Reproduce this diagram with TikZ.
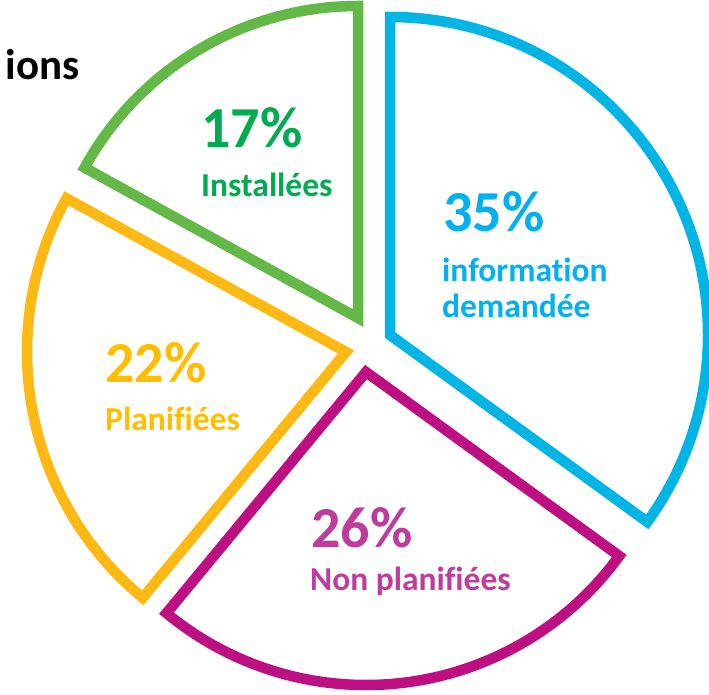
\documentclass[tikz,border=0pt]{standalone}
\usepackage{fontspec}
\setmainfont{Carlito}[Ligatures=NoCommon]
\usetikzlibrary{positioning}

\definecolor{greenline}{RGB}{100,184,72}
\definecolor{greentext}{RGB}{0,170,80}
\definecolor{cyanline}{RGB}{0,180,228}
\definecolor{cyantext}{RGB}{0,176,240}
\definecolor{magline}{RGB}{190,15,130}
\definecolor{magtext}{RGB}{190,60,155}
\definecolor{yelline}{RGB}{255,185,20}
\definecolor{yeltext}{RGB}{255,190,0}

\tikzset{
  slice/.style={line width=10.5pt, line join=miter},
  pct/.style={anchor=base west, inner sep=0pt, font=\bfseries\fontsize{58}{58}\selectfont},
  lbl/.style={anchor=base west, inner sep=0pt, font=\bfseries\fontsize{33.5}{37}\selectfont}
}

\begin{document}
\begin{tikzpicture}[x=1pt,y=1pt]
\useasboundingbox (0,0) rectangle (709,694);

% apexes of the slices
\coordinate (cyanC) at (390,359);
\coordinate (magC) at (366,322);
\coordinate (yelC) at (346,342);
\coordinate (greenC) at (358,376);

% slices
\draw[slice, cyanline] (cyanC) -- ++(90:318) arc[start angle=90, end angle=-36, radius=318] -- cycle;
\draw[slice, magline] (magC) -- ++(-36:313) arc[start angle=-36, end angle=-129.6, radius=313] -- cycle;
\draw[slice, yelline] (yelC) -- ++(-129.6:319) arc[start angle=-129.6, end angle=-208.8, radius=319] -- cycle;
\draw[slice, greenline] (greenC) -- ++(151.2:312) arc[start angle=151.2, end angle=90, radius=312] -- cycle;

% texts
\node[anchor=base east, inner sep=0pt, font=\bfseries\fontsize{43}{43}\selectfont](title) at (80,614){ions};

\node[pct, greentext](pctInst) at (201,546){17\%};
\node[lbl, greentext](lblInst) at (201,497){Installées};

\node[pct, cyantext](pctInfo) at (443,462){35\%};
\node[lbl, cyantext](lblInfoA) at (442,412){information};
\node[lbl, cyantext](lblInfoB) at (442,376){demandée};

\node[pct, yeltext](pctPlan) at (105,311){22\%};
\node[lbl, yeltext](lblPlan) at (105,264){Planifiées};

\node[pct, magtext](pctNon) at (311,147){26\%};
\node[lbl, magtext](lblNon) at (310,104){Non planifiées};
\end{tikzpicture}
\end{document}
